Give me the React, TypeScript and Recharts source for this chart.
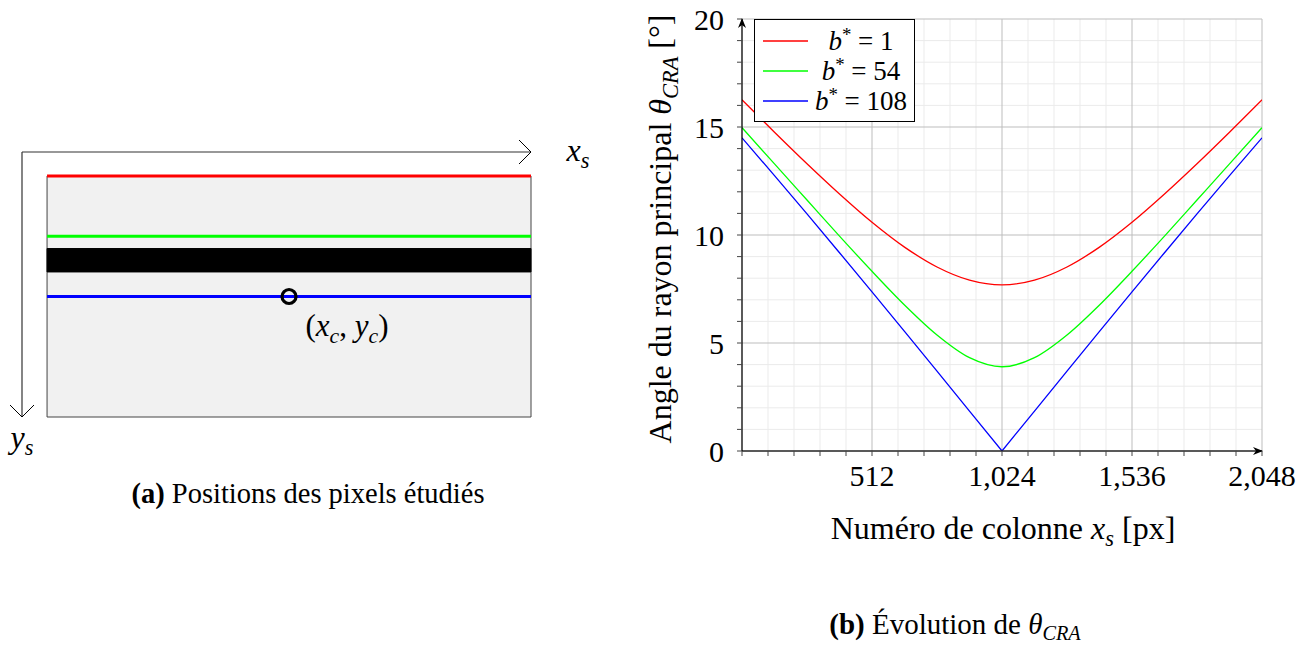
import React from "react";
import {
  LineChart,
  Line,
  XAxis,
  YAxis,
  ReferenceLine,
  ReferenceArea,
  Legend,
  ComposedChart,
  Scatter,
} from "recharts";

const SERIF = '"Liberation Serif", "DejaVu Serif", serif';

// --- (b) angle du rayon principal ---
const columns = [0, 128, 256, 384, 512, 640, 768, 896, 1024, 1152, 1280, 1408, 1536, 1664, 1792, 1920, 2048];
const craRow1 = [16.26, 14.76, 13.3, 11.9, 10.59, 9.44, 8.52, 7.91, 7.69, 7.91, 8.52, 9.44, 10.59, 11.9, 13.3, 14.76, 16.26];
const craRow54 = [14.97, 13.29, 11.62, 9.95, 8.32, 6.76, 5.37, 4.32, 3.9, 4.32, 5.37, 6.76, 8.32, 9.95, 11.62, 13.29, 14.97];
const craRow108 = [14.5, 12.75, 10.98, 9.18, 7.37, 5.54, 3.7, 1.85, 0, 1.85, 3.7, 5.54, 7.37, 9.18, 10.98, 12.75, 14.5];
const bValues = [1, 54, 108];
const seriesKeys = ["r1", "r54", "r108"];
const seriesColors = ["#ff0000", "#00ff00", "#0000ff"];

const xMajorTicks = [512, 1024, 1536, 2048];
const yMajorTicks = [0, 5, 10, 15, 20];
const xMinorTicks = Array.from({ length: 21 }, (_, i) => (i * 2048) / 20);
const yMinorTicks = Array.from({ length: 21 }, (_, i) => i);

// --- (a) capteur ---
const sensorWidth = 2048;
const sensorHeight = 216;
const maskedBand = [65, 86];
const centerPixel = [{ x: 1024, y: 108 }];

const table = columns.map((x, i) => ({ x, r1: craRow1[i], r54: craRow54[i], r108: craRow108[i] }));

const Sub = ({ children }: { children: React.ReactNode }) => (
  <span style={{ fontSize: "0.7em", fontStyle: "italic", position: "relative", top: "0.3em" }}>{children}</span>
);
const I = ({ children }: { children: React.ReactNode }) => <span style={{ fontStyle: "italic" }}>{children}</span>;

const tickFont = { fill: "#000", fontSize: 30, fontFamily: SERIF };

function LegendBox() {
  return (
    <div
      style={{
        border: "1.3px solid #000",
        background: "#fff",
        padding: "6px 0 5px 0",
        width: 161,
        boxSizing: "border-box",
        fontFamily: SERIF,
        fontSize: 27,
        color: "#000",
      }}
    >
      {bValues.map((b, i) => (
        <div key={b} style={{ height: 30, display: "flex", alignItems: "center" }}>
          <svg width={53} height={6} style={{ display: "block" }}>
            <line x1={8} x2={53} y1={3} y2={3} stroke={seriesColors[i]} strokeWidth={1.3} />
          </svg>
          <span style={{ flex: 1, textAlign: "center", whiteSpace: "nowrap" }}>
            <I>b</I>
            <span style={{ fontSize: "0.7em", position: "relative", top: "-0.45em" }}>*</span> = {b}
          </span>
        </div>
      ))}
    </div>
  );
}

export default function App() {
  const abs = (left: number, top: number, extra: React.CSSProperties = {}): React.CSSProperties => ({
    position: "absolute",
    left,
    top,
    transform: "translate(-50%, -50%)",
    whiteSpace: "nowrap",
    fontFamily: SERIF,
    color: "#000",
    ...extra,
  });

  return (
    <div style={{ position: "absolute", left: 0, top: 0, width: 1314, height: 645, background: "#fff", fontFamily: SERIF }}>
      <svg width={0} height={0} style={{ position: "absolute" }}>
        <defs>
          <marker id="stealth" viewBox="0 0 10 8" refX="9" refY="4" markerWidth="10" markerHeight="8" markerUnits="userSpaceOnUse" orient="auto-start-reverse">
            <path d="M0,0 L10,4 L0,8 L3,4 Z" fill="#000" />
          </marker>
          <marker id="chevron" viewBox="0 0 14 26" refX="13" refY="13" markerWidth="14" markerHeight="26" markerUnits="userSpaceOnUse" orient="auto-start-reverse">
            <path d="M1,1 L13,13 L1,25" fill="none" stroke="#000" strokeWidth="1" />
          </marker>
        </defs>
      </svg>

      {/* (a) Positions des pixels étudiés */}
      <div style={{ position: "absolute", left: 0, top: 0 }}>
        <ComposedChart width={620} height={470} margin={{ top: 151, left: 21, right: 89, bottom: 53 }}>
          <XAxis
            type="number"
            dataKey="x"
            orientation="top"
            domain={[-106, sensorWidth]}
            height={1}
            tick={false}
            tickLine={false}
            axisLine={{ stroke: "#333", strokeWidth: 1.2, markerEnd: "url(#chevron)" }}
            allowDataOverflow
          />
          <YAxis
            type="number"
            dataKey="y"
            reversed
            domain={[-21.5, sensorHeight]}
            width={1}
            tick={false}
            tickLine={false}
            axisLine={{ stroke: "#333", strokeWidth: 1.2, markerEnd: "url(#chevron)" }}
            allowDataOverflow
          />
          <ReferenceArea x1={0} x2={sensorWidth} y1={0} y2={sensorHeight} fill="#f1f1f1" fillOpacity={1} stroke="#444" strokeWidth={1} />
          <ReferenceArea x1={0} x2={sensorWidth} y1={maskedBand[0]} y2={maskedBand[1]} fill="#000" fillOpacity={1} stroke="#000" />
          {bValues.map((b, i) => (
            <ReferenceLine
              key={b}
              segment={[
                { x: 0, y: b === 1 ? 0 : b },
                { x: sensorWidth, y: b === 1 ? 0 : b },
              ]}
              stroke={seriesColors[i]}
              strokeWidth={3}
            />
          ))}
          <Scatter
            data={centerPixel}
            isAnimationActive={false}
            shape={(p: any) => <circle cx={p.cx} cy={p.cy} r={7} fill="none" stroke="#000" strokeWidth={3.2} />}
          />
        </ComposedChart>
      </div>
      <div style={abs(578, 150, { fontSize: 32 })}>
        <I>x</I>
        <Sub>s</Sub>
      </div>
      <div style={abs(22, 437, { fontSize: 32 })}>
        <I>y</I>
        <Sub>s</Sub>
      </div>
      <div style={abs(347, 326, { fontSize: 31 })}>
        (<I>x</I>
        <Sub>c</Sub>, <I>y</I>
        <Sub>c</Sub>)
      </div>
      <div style={abs(308, 494, { fontSize: 28.5 })}>
        <b>(a)</b> Positions des pixels étudiés
      </div>

      {/* (b) Évolution de θ_CRA */}
      <div style={{ position: "absolute", left: 600, top: 0 }}>
        <LineChart width={714} height={500} data={table} margin={{ top: 19, right: 52, left: 82, bottom: 9 }}>
          {xMinorTicks
            .filter((v) => !xMajorTicks.includes(v) && v > 0)
            .map((v) => (
              <ReferenceLine key={"xm" + v} x={v} stroke="#ebebeb" strokeWidth={1} />
            ))}
          {yMinorTicks
            .filter((v) => !yMajorTicks.includes(v))
            .map((v) => (
              <ReferenceLine key={"ym" + v} y={v} stroke="#ebebeb" strokeWidth={1} />
            ))}
          {xMajorTicks.map((v) => (
            <ReferenceLine key={"xM" + v} x={v} stroke="#bdbdbd" strokeWidth={1} />
          ))}
          {yMajorTicks
            .filter((v) => v > 0)
            .map((v) => (
              <ReferenceLine key={"yM" + v} y={v} stroke="#bdbdbd" strokeWidth={1} />
            ))}
          <XAxis
            dataKey="x"
            type="number"
            domain={[0, 2048]}
            ticks={xMinorTicks}
            interval={0}
            tickFormatter={(v: number) => (xMajorTicks.includes(v) ? v.toLocaleString("en-US") : "")}
            height={40}
            tickSize={5}
            tickMargin={9}
            tick={tickFont}
            tickLine={{ stroke: "#444" }}
            axisLine={{ stroke: "#222", strokeWidth: 1.3, markerEnd: "url(#stealth)" }}
            allowDataOverflow
          />
          <YAxis
            type="number"
            domain={[0, 20]}
            ticks={yMinorTicks}
            interval={0}
            tickFormatter={(v: number) => (yMajorTicks.includes(v) ? String(v) : "")}
            width={60}
            tickSize={5}
            tickMargin={13}
            tick={tickFont}
            tickLine={{ stroke: "#444" }}
            axisLine={{ stroke: "#000", strokeWidth: 1.3, markerStart: "url(#stealth)" }}
            allowDataOverflow
          />
          {seriesKeys.map((k, i) => (
            <Line
              key={k}
              dataKey={k}
              name={`b* = ${bValues[i]}`}
              type={k === "r108" ? "linear" : "monotone"}
              stroke={seriesColors[i]}
              strokeWidth={1.3}
              dot={false}
              activeDot={false}
              isAnimationActive={false}
            />
          ))}
          <Legend
            layout="vertical"
            align="center"
            verticalAlign="middle"
            content={<LegendBox />}
            wrapperStyle={{ left: 154, top: 19, width: 163, height: 102 }}
          />
        </LineChart>
      </div>
      <div style={abs(660, 229, { fontSize: 32, transform: "translate(-50%, -50%) rotate(-90deg)" })}>
        Angle du rayon principal <I>θ</I>
        <Sub>CRA</Sub> [°]
      </div>
      <div style={abs(1003, 528, { fontSize: 32 })}>
        Numéro de colonne <I>x</I>
        <Sub>s</Sub> [px]
      </div>
      <div style={abs(955, 624, { fontSize: 29 })}>
        <b>(b)</b> Évolution de <I>θ</I>
        <Sub>CRA</Sub>
      </div>
    </div>
  );
}
